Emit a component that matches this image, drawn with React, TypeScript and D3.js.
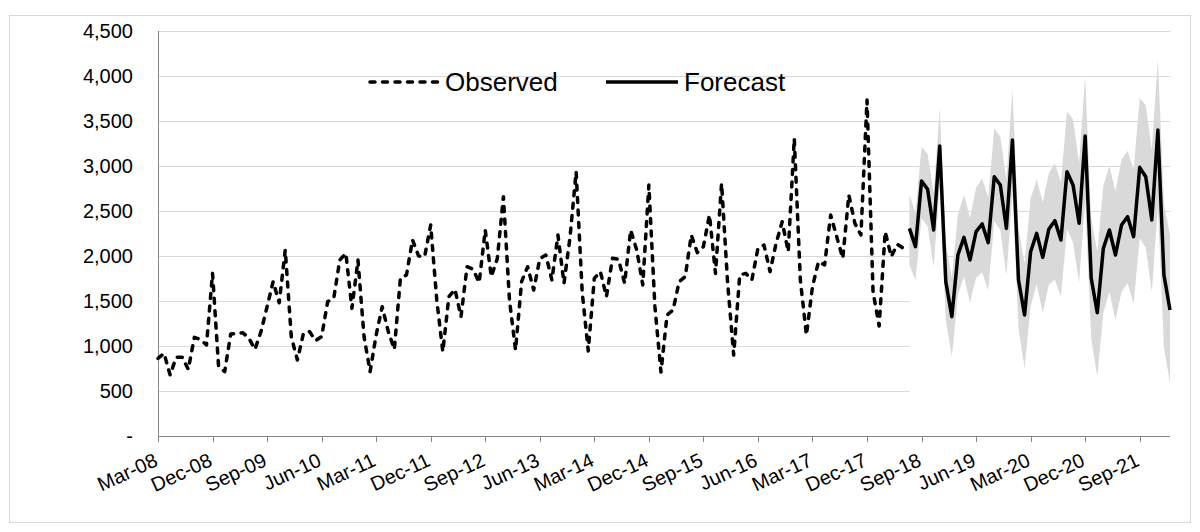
import React from "react";
import * as d3 from "d3";

// Monthly series, Mar-08 onward (index 0 = Mar-08)
const observed: number[] = [
  863, 918, 678, 874, 874, 740, 1096, 1074, 1011, 1807, 770, 715,
  1133, 1140, 1148, 1085, 963, 1160, 1437, 1715, 1480, 2067, 1100, 844,
  1140, 1160, 1060, 1104, 1493, 1530, 1955, 2030, 1418, 1955, 1104, 715,
  1122, 1437, 1160, 963, 1752, 1789, 2178, 2000, 1993, 2344, 1511, 937,
  1548, 1630, 1326, 1881, 1852, 1704, 2289, 1770, 1974, 2659, 1511, 955,
  1715, 1881, 1622, 1970, 2011, 1733, 2233, 1696, 2215, 2937, 1600, 945,
  1752, 1826, 1548, 1974, 1963, 1696, 2289, 2067, 1678, 2789, 1437, 710,
  1344, 1400, 1715, 1770, 2233, 2037, 2104, 2456, 1807, 2807, 1700, 900,
  1789, 1807, 1733, 2085, 2122, 1826, 2141, 2381, 2048, 3307, 1733, 1122,
  1659, 1937, 1900, 2456, 2215, 1974, 2678, 2363, 2233, 3733, 1600, 1222,
  2270, 1993, 2130, 2085,
];

// Forecast from Jul-18 (index 124) to Feb-22
const forecastStartIndex = 124;
const forecast: number[] = [
  2307, 2104, 2833, 2741, 2289, 3222, 1715, 1326, 2011, 2207, 1956, 2270,
  2356, 2148, 2881, 2789, 2307, 3289, 1733, 1344, 2048, 2252, 1985, 2296,
  2393, 2178, 2937, 2789, 2363, 3333, 1752, 1370, 2085, 2289, 2011, 2344,
  2437, 2215, 2985, 2881, 2400, 3400, 1789, 1400,
];
const forecastLower: number[] = [
  1900, 1730, 2420, 2330, 1880, 2780, 1290, 880, 1570, 1770, 1480, 1760,
  1820, 1620, 2390, 2290, 1780, 2700, 1200, 752, 1440, 1690, 1370, 1680,
  1740, 1550, 2300, 2150, 1700, 2620, 1080, 660, 1370, 1600, 1290, 1600,
  1700, 1470, 2200, 2090, 1600, 2550, 990, 585,
];
const forecastUpper: number[] = [
  2680, 2480, 3215, 3133, 2700, 3641, 2130, 1760, 2460, 2680, 2420, 2760,
  2860, 2650, 3418, 3326, 2850, 3844, 2300, 1920, 2640, 2850, 2600, 2920,
  3030, 2820, 3604, 3520, 3030, 3993, 2420, 2050, 2780, 3000, 2720, 3070,
  3170, 2960, 3752, 3678, 3180, 4178, 2580, 2230,
];

const tickLabels: string[] = [
  "Mar-08", "Dec-08", "Sep-09", "Jun-10", "Mar-11", "Dec-11", "Sep-12",
  "Jun-13", "Mar-14", "Dec-14", "Sep-15", "Jun-16", "Mar-17", "Dec-17",
  "Sep-18", "Jun-19", "Mar-20", "Dec-20", "Sep-21",
];
const tickStep = 9;
const yTicks: number[] = [0, 500, 1000, 1500, 2000, 2500, 3000, 3500, 4000, 4500];

const FONT = "'Liberation Sans', Arial, Helvetica, sans-serif";

export default function App() {
  const W = 1200;
  const H = 532;
  const n = forecastStartIndex + forecast.length;
  const x = d3.scaleLinear().domain([0, n - 1]).range([158, 1170]);
  const y = d3.scaleLinear().domain([0, 4500]).range([436, 31]);
  const fmt = d3.format(",");

  const obsPath = d3
    .line<number>()
    .x((_, i) => x(i))
    .y((d) => y(d))(observed) as string;

  const fcPath = d3
    .line<number>()
    .x((_, i) => x(i + forecastStartIndex))
    .y((d) => y(d))(forecast) as string;

  const idx = forecast.map((_, i) => i);
  const whitePath = d3
    .area<number>()
    .x((i) => x(i + forecastStartIndex))
    .y0(y(0))
    .y1((i) => y(forecastLower[i]))(idx) as string;
  const bandPath = d3
    .area<number>()
    .x((i) => x(i + forecastStartIndex))
    .y0((i) => y(forecastLower[i]))
    .y1((i) => y(forecastUpper[i]))(idx) as string;

  return (
    <div style={{ position: "absolute", left: 0, top: 0 }}>
      <svg width={W} height={H} style={{ display: "block", background: "#fff" }}>
        <rect x={9.5} y={15.5} width={1181} height={507} fill="#fff" stroke="#d9d9d9" />
        {/* gridlines */}
        {yTicks.slice(1).map((t) => (
          <line key={t} x1={158} x2={1170} y1={Math.round(y(t)) + 0.5} y2={Math.round(y(t)) + 0.5} stroke="#d9d9d9" strokeWidth={1} />
        ))}
        {/* band: white below lower, grey between */}
        <path d={whitePath} fill="#ffffff" />
        <path d={bandPath} fill="#d9d9d9" />
        {/* axes */}
        <line x1={158.5} x2={158.5} y1={31} y2={436} stroke="#868686" />
        <line x1={158} x2={1170} y1={436.5} y2={436.5} stroke="#868686" />
        {tickLabels.map((lab, k) => {
          const px = Math.round(x(k * tickStep)) + 0.5;
          return <line key={lab} x1={px} x2={px} y1={436} y2={442} stroke="#868686" />;
        })}
        {/* y labels */}
        {yTicks.map((t) => (
          <text key={t} x={133} y={y(t)} dy="0.35em" textAnchor="end" fontFamily={FONT} fontSize={20} fill="#000">
            {t === 0 ? "-" : fmt(t)}
          </text>
        ))}
        {/* x labels */}
        {tickLabels.map((lab, k) => {
          const px = x(k * tickStep);
          return (
            <text key={lab} transform={`translate(${px + 1},${465}) rotate(-25)`} textAnchor="end" fontFamily={FONT} fontSize={20} fill="#000">
              {lab}
            </text>
          );
        })}
        {/* series */}
        <path d={fcPath} fill="none" stroke="#000" strokeWidth={3.5} strokeLinejoin="round" />
        <path d={obsPath} fill="none" stroke="#000" strokeWidth={3.5} strokeDasharray="5 7.5" strokeLinecap="round" strokeLinejoin="round" />
        {/* legend */}
        <line x1={370} x2={438} y1={82} y2={82} stroke="#000" strokeWidth={3.5} strokeDasharray="5 7.5" strokeLinecap="round" />
        <text x={445} y={82} dy="0.35em" fontFamily={FONT} fontSize={26} fill="#000">Observed</text>
        <line x1={606} x2={678} y1={82} y2={82} stroke="#000" strokeWidth={3.5} />
        <text x={684} y={82} dy="0.35em" fontFamily={FONT} fontSize={26} fill="#000">Forecast</text>
      </svg>
    </div>
  );
}
